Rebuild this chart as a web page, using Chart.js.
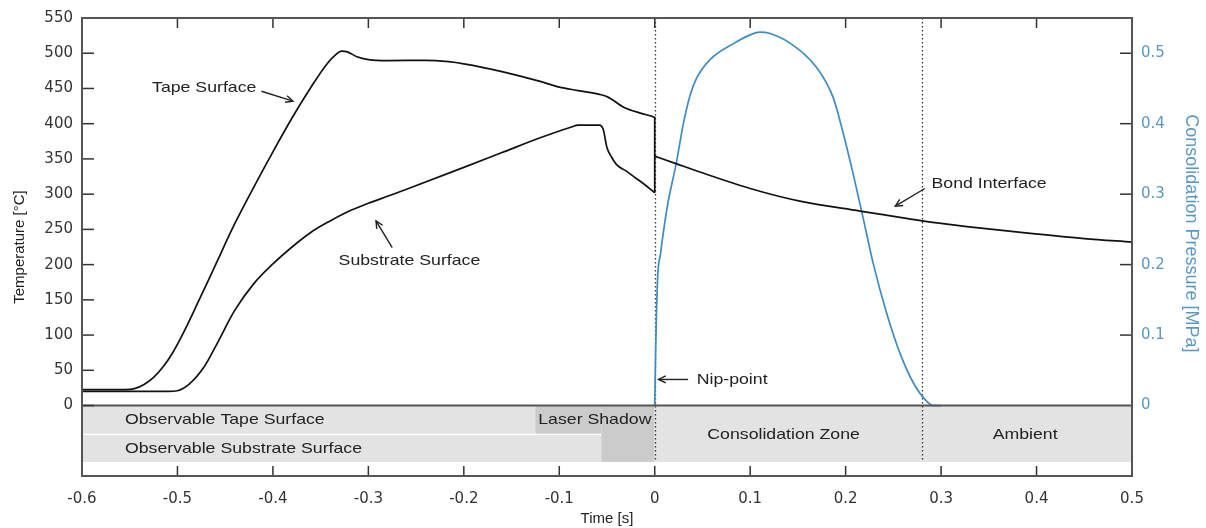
<!DOCTYPE html>
<html>
<head>
<meta charset="utf-8">
<script src="https://cdn.jsdelivr.net/npm/chart.js@4.4.1/dist/chart.umd.min.js"></script>
<style>
html,body{margin:0;padding:0;background:#fff;}
#wrap{width:1206px;height:528px;position:relative;}
</style>
</head>
<body>
<div id="wrap"><canvas id="c" width="1206" height="528"></canvas></div>
<script>
// ---------- data ----------
const tapeTime = [-0.6,-0.555,-0.545,-0.535,-0.525,-0.515,-0.505,-0.495,-0.48,-0.46,-0.44,-0.42,-0.4,-0.38,-0.36,-0.345,-0.335,-0.328,-0.322,-0.312,-0.3,-0.28,-0.24,-0.216,-0.2,-0.16,-0.12,-0.1,-0.08,-0.056,-0.048,-0.032,-0.015,-0.002,0,0];
const tapeTemp = [22.5,22.5,24,30,40,55,75,100,142,200,258,310,360,408,452,482,497,503,502,495,491,489.5,490,488,485,474,460,452,447,441,437,423,415,410,409,302];

const substrateTime = [-0.6,-0.51,-0.5,-0.488,-0.472,-0.46,-0.44,-0.42,-0.4,-0.38,-0.36,-0.34,-0.32,-0.3,-0.28,-0.26,-0.2,-0.16,-0.12,-0.088,-0.08,-0.058,-0.054,-0.05,-0.045,-0.04,-0.03,-0.02,-0.01,0];
const substrateTemp = [20,20,21,30,55,84,135,173,201,225,246,262,276,287,297,307,338,359,380,395,398,398,392,366,352,342,333,323,313,302];

const bondTime = [0,0.023,0.048,0.1,0.152,0.215,0.257,0.28,0.327,0.396,0.45,0.5];
const bondTemp = [354,343,331,308,290,276,267,262,254,244,237,232];

const pressureTime = [0,0.001,0.003,0.006,0.013,0.023,0.03,0.037,0.044,0.058,0.083,0.1,0.11,0.121,0.142,0.17,0.187,0.197,0.208,0.219,0.229,0.243,0.257,0.271,0.285,0.292,0.3];
const pressureMPa = [0,0.08,0.18,0.215,0.281,0.347,0.4,0.44,0.465,0.491,0.514,0.526,0.53,0.528,0.514,0.479,0.437,0.389,0.328,0.262,0.201,0.131,0.074,0.032,0.006,0,0];

const timeTicks = [-0.6,-0.5,-0.4,-0.3,-0.2,-0.1,0,0.1,0.2,0.3,0.4,0.5];
const tempTicks = [0,50,100,150,200,250,300,350,400,450,500,550];
const pressureTicks = [0,0.1,0.2,0.3,0.4,0.5];

const markerTimes = [0, 0.28];           // dotted vertical lines (nip-point, end of consolidation)

const zoneNames = ['Observable Tape Surface','Laser Shadow','Observable Substrate Surface','','Consolidation Zone','Ambient'];
const zoneStart = [-0.6,-0.125,-0.6,-0.056,0,0.28];
const zoneEnd   = [-0.125,-0.056,-0.056,0,0.28,0.5];

const annotTexts = ['Tape Surface','Substrate Surface','Bond Interface','Nip-point'];
const annotTime  = [-0.472,-0.257,0.29,0.044];
const annotTemp  = [451,206,314,37];
const arrowFromTime = [-0.412,-0.275,0.283,0.035];
const arrowFromTemp = [446,224,308,37];
const arrowToTime   = [-0.379,-0.292,0.252,0.004];
const arrowToTemp   = [432,262,283,37];

const pressureTitle = 'Consolidation Pressure [MPa]';

// ---------- layout / style (not data) ----------
const zoneLayout = {           // temperature-axis units for the band rows
  rows: [[0,-40],[0,-40],[-42,-80],[0,-80],[0,-80],[0,-80]],
  shade: ['#e3e3e3','#cbcbcb','#e3e3e3','#cbcbcb','#e3e3e3','#e3e3e3'],
  labelAlign: ['left','left','left','left','center','center'],
  labelTime: [-0.555,-0.122,-0.555,0,0.135,0.388],
  labelTemp: [-21,-21,-62,-62,-41,-41]
};
const annotAlign = ['center','center','left','left'];
const TXT_FONT = '15px "Liberation Sans", Arial, sans-serif';
const TXT_STRETCH = 1.18;
const BLUE = '#3f8cc0';
const BLUE_TXT = '#5a98c4';

function stretchText(ctx, text, x, y, align) {
  ctx.save();
  ctx.font = TXT_FONT;
  ctx.fillStyle = '#222';
  ctx.textBaseline = 'middle';
  ctx.textAlign = align;
  ctx.translate(x, y);
  ctx.scale(TXT_STRETCH, 1);
  ctx.fillText(text, 0, 0);
  ctx.restore();
}

function arrow(ctx, x0, y0, x1, y1) {
  ctx.save();
  ctx.strokeStyle = '#222';
  ctx.lineWidth = 1.4;
  ctx.beginPath();
  ctx.moveTo(x0, y0);
  ctx.lineTo(x1, y1);
  ctx.stroke();
  const ang = Math.atan2(y1 - y0, x1 - x0);
  const L = 8, w = 0.45;
  ctx.beginPath();
  ctx.moveTo(x1 - L * Math.cos(ang - w), y1 - L * Math.sin(ang - w));
  ctx.lineTo(x1, y1);
  ctx.lineTo(x1 - L * Math.cos(ang + w), y1 - L * Math.sin(ang + w));
  ctx.stroke();
  ctx.restore();
}

const decor = {
  id: 'decor',
  beforeDatasetsDraw(chart) {
    const {ctx, chartArea: a, scales} = chart;
    const x = scales.x, y = scales.y;
    // zone bands
    zoneNames.forEach((n, i) => {
      const r = zoneLayout.rows[i];
      const x0 = x.getPixelForValue(zoneStart[i]), x1 = x.getPixelForValue(zoneEnd[i]);
      const y0 = y.getPixelForValue(r[0]), y1 = y.getPixelForValue(r[1]);
      ctx.fillStyle = zoneLayout.shade[i];
      ctx.fillRect(x0, y0, x1 - x0, y1 - y0);
    });
    zoneNames.forEach((n, i) => {
      if (!n) return;
      stretchText(ctx, n, x.getPixelForValue(zoneLayout.labelTime[i]), y.getPixelForValue(zoneLayout.labelTemp[i]), zoneLayout.labelAlign[i]);
    });
    // dotted markers
    ctx.save();
    ctx.strokeStyle = '#333';
    ctx.lineWidth = 1.3;
    ctx.setLineDash([1.5, 2.5]);
    markerTimes.forEach(t => {
      const px = Math.round(x.getPixelForValue(t)) + 0.5;
      ctx.beginPath();
      ctx.moveTo(px, a.top);
      ctx.lineTo(px, y.getPixelForValue(-80));
      ctx.stroke();
    });
    ctx.restore();
  },
  afterDatasetsDraw(chart) {
    const {ctx, chartArea: a, scales} = chart;
    const x = scales.x, y = scales.y, y2 = scales.y2;
    ctx.save();
    ctx.strokeStyle = '#555';
    ctx.lineWidth = 2;
    // zero line
    const y0 = y.getPixelForValue(0);
    ctx.beginPath(); ctx.moveTo(a.left, y0); ctx.lineTo(a.right, y0); ctx.stroke();
    // inward ticks
    ctx.lineWidth = 1.5;
    ctx.strokeStyle = '#333';
    const tl = 10;
    timeTicks.forEach(t => {
      const px = x.getPixelForValue(t);
      if (px <= a.left + 1 || px >= a.right - 1) return;
      ctx.beginPath();
      ctx.moveTo(px, a.bottom); ctx.lineTo(px, a.bottom - tl);
      ctx.moveTo(px, a.top); ctx.lineTo(px, a.top + tl);
      ctx.stroke();
    });
    tempTicks.forEach(v => {
      const py = y.getPixelForValue(v);
      if (py <= a.top + 1) return;
      ctx.beginPath(); ctx.moveTo(a.left, py); ctx.lineTo(a.left + 12, py); ctx.stroke();
    });
    pressureTicks.forEach(v => {
      const py = y2.getPixelForValue(v);
      if (v === 0) return;
      ctx.beginPath(); ctx.moveTo(a.right, py); ctx.lineTo(a.right - 12, py); ctx.stroke();
    });
    // frame
    ctx.strokeStyle = '#555';
    ctx.lineWidth = 2;
    ctx.strokeRect(a.left, a.top, a.right - a.left, a.bottom - a.top);
    ctx.restore();
    // annotations
    annotTexts.forEach((s, i) => {
      stretchText(ctx, s, x.getPixelForValue(annotTime[i]), y.getPixelForValue(annotTemp[i]), annotAlign[i]);
      arrow(ctx, x.getPixelForValue(arrowFromTime[i]), y.getPixelForValue(arrowFromTemp[i]),
                 x.getPixelForValue(arrowToTime[i]), y.getPixelForValue(arrowToTemp[i]));
    });
    // right axis title (rotated, drawn beside the pressure axis)
    ctx.save();
    ctx.font = '18px "Liberation Sans", Arial, sans-serif';
    ctx.fillStyle = BLUE_TXT;
    ctx.textAlign = 'center';
    ctx.textBaseline = 'middle';
    ctx.translate(chart.width - 15, y2.getPixelForValue(0.25) + 4);
    ctx.rotate(Math.PI / 2);
    ctx.fillText(pressureTitle, 0, 0);
    ctx.restore();
  }
};

const pts = (xs, ys) => xs.map((t, i) => ({x: t, y: ys[i]}));
const fmt = v => String(Math.round(v * 10) / 10);
const tickFont = {family: '"DejaVu Sans", sans-serif', size: 15};

new Chart(document.getElementById('c'), {
  type: 'line',
  data: {
    datasets: [
      {label: 'Tape Surface', data: pts(tapeTime, tapeTemp), yAxisID: 'y', borderColor: '#111', borderWidth: 1.7, pointRadius: 0, cubicInterpolationMode: 'monotone'},
      {label: 'Substrate Surface', data: pts(substrateTime, substrateTemp), yAxisID: 'y', borderColor: '#111', borderWidth: 1.7, pointRadius: 0, cubicInterpolationMode: 'monotone'},
      {label: 'Bond Interface', data: pts(bondTime, bondTemp), yAxisID: 'y', borderColor: '#111', borderWidth: 1.7, pointRadius: 0, cubicInterpolationMode: 'monotone'},
      {label: 'Consolidation Pressure', data: pts(pressureTime, pressureMPa), yAxisID: 'y2', borderColor: BLUE, borderWidth: 1.7, pointRadius: 0, cubicInterpolationMode: 'monotone'}
    ]
  },
  options: {
    responsive: false,
    animation: false,
    layout: {padding: {top: 15, left: 0, right: 0, bottom: 0}},
    plugins: {legend: {display: false}, tooltip: {enabled: false}},
    scales: {
      x: {
        type: 'linear', min: -0.6, max: 0.5,
        afterBuildTicks: s => { s.ticks = timeTicks.map(v => ({value: v})); },
        afterFit: s => { s.height = 52; },
        grid: {display: false, drawTicks: false},
        border: {display: false},
        ticks: {callback: fmt, font: tickFont, color: '#333', padding: 14, maxRotation: 0, autoSkip: false},
        title: {display: true, text: 'Time [s]', color: '#222', font: {family: '"Liberation Sans", Arial, sans-serif', size: 15}, padding: {top: 0, bottom: 0}}
      },
      y: {
        position: 'left', min: -100, max: 550,
        afterBuildTicks: s => { s.ticks = tempTicks.map(v => ({value: v})); },
        afterFit: s => { s.width = 82; },
        grid: {display: false, drawTicks: false},
        border: {display: false},
        ticks: {callback: fmt, font: tickFont, color: '#333', padding: 9, autoSkip: false},
        title: {display: true, text: 'Temperature [°C]', color: '#222', font: {family: '"Liberation Sans", Arial, sans-serif', size: 15}, padding: {top: 11, bottom: 0}}
      },
      y2: {
        position: 'right', min: -0.1, max: 0.55,
        afterBuildTicks: s => { s.ticks = pressureTicks.map(v => ({value: v})); },
        afterFit: s => { s.width = 74; },
        grid: {display: false, drawTicks: false},
        border: {display: false},
        ticks: {callback: fmt, font: tickFont, color: BLUE_TXT, padding: 9, autoSkip: false},
        title: {display: false}
      }
    }
  },
  plugins: [decor]
});
</script>
</body>
</html>
